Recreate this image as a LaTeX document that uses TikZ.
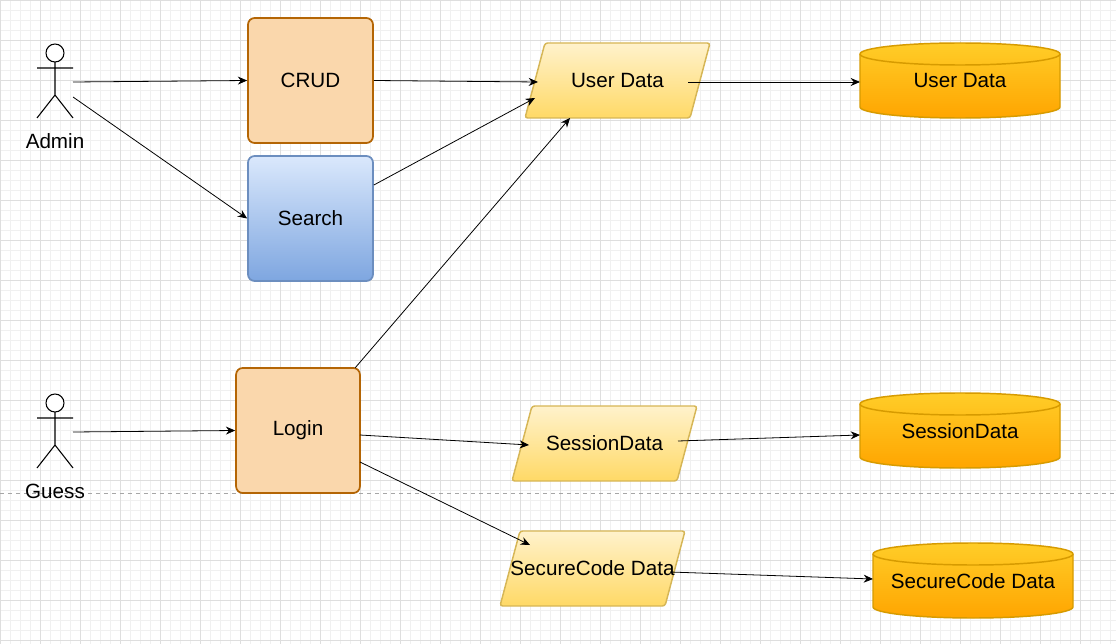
\documentclass[tikz,border=0pt]{standalone}
\usepackage{fontspec}
\setmainfont{Liberation Sans}
\usetikzlibrary{shapes.geometric,arrows.meta}
\definecolor{gl}{HTML}{F0F0F0}
\definecolor{gd}{HTML}{DEDEDE}
\definecolor{orf}{HTML}{FAD7AC}
\definecolor{ors}{HTML}{B46504}
\definecolor{blt}{HTML}{DAE8FC}
\definecolor{blb}{HTML}{7EA6E0}
\definecolor{bls}{HTML}{6C8EBF}
\definecolor{ylt}{HTML}{FFF2CC}
\definecolor{ylb}{HTML}{FFD966}
\definecolor{yls}{HTML}{D6B656}
\definecolor{cyt}{HTML}{FFCD28}
\definecolor{cyb}{HTML}{FFA500}
\definecolor{cys}{HTML}{D79B00}
\begin{document}
\begin{tikzpicture}[x=0.0264cm,y=-0.0264cm,
  txt/.style={font=\fontsize{15.5}{18}\selectfont},
  box/.style={txt,draw=ors,fill=orf,line width=1.3pt,rounded corners=5pt,inner sep=0},
  arr/.style={-{Stealth[length=7pt,width=6pt]},line width=0.6pt},
  act/.style={line width=0.8pt}]
\useasboundingbox (0,0) rectangle (1116,644);
\fill[white] (0,0) rectangle (1116,644);
\foreach \i in {0,10,...,1116} \draw[gl,line width=0.4pt] (\i,0)--(\i,644);
\foreach \i in {0,10,...,644} \draw[gl,line width=0.4pt] (0,\i)--(1116,\i);
\foreach \i in {0,40,...,1116} \draw[gd,line width=0.4pt] (\i,0)--(\i,644);
\foreach \i in {0,40,...,644} \draw[gd,line width=0.4pt] (0,\i)--(1116,\i);
\draw[gray!70,dashed,line width=0.6pt] (0,493)--(1116,493);
% actors
\foreach \y in {0,350}{
 \draw[act,fill=white] (55,53+\y) circle (9);
 \draw[act] (55,62+\y)--(55,95+\y) (37,68+\y)--(73,68+\y) (37,118+\y)--(55,95+\y)--(73,118+\y);
}
\coordinate (a1) at (73,82); \coordinate (a2) at (73,97); \coordinate (g1) at (73,432);
\node[txt] (adminl) at (55,141) {Admin};
\node[txt] (guessl) at (55,491) {Guess};
% boxes
\node[box,minimum width=3.3cm,minimum height=3.3cm] (crud) at (310.5,80.5) {CRUD};
\node[box,draw=bls,top color=blt,bottom color=blb,minimum width=3.3cm,minimum height=3.3cm] (search) at (310.5,218.5) {Search};
\node[box,minimum width=3.27cm,minimum height=3.3cm] (login) at (298,430.5) {Login};
% parallelograms
\foreach \x/\y/\n/\t in {525/118/ud/User Data,512/481/sd/SessionData,500/606/sc/SecureCode Data}{
 \draw[yls,line width=1.1pt,top color=ylt,bottom color=ylb,rounded corners=2pt] (\x,\y) -- (\x+20,\y-75) -- (\x+185,\y-75) -- (\x+165,\y) -- cycle;
 \node[txt] (\n) at (\x+92.5,\y-37.5) {\t};
}
% cylinders
\foreach \cx/\cy/\n/\t in {960/43/c1/User Data,960/393/c2/SessionData,973/543/c3/SecureCode Data}{
 \draw[cys,line width=1.1pt,top color=cyt,bottom color=cyb] (\cx-100,\cy+11) -- (\cx-100,\cy+64) arc[start angle=180,end angle=0,x radius=100,y radius=11] -- (\cx+100,\cy+11) arc[start angle=0,end angle=-180,x radius=100,y radius=11] -- cycle;
 \draw[cys,line width=1.1pt] (\cx-100,\cy+11) arc[start angle=180,end angle=0,x radius=100,y radius=11];
 \node[txt] (\n) at (\cx,\cy+38) {\t};
}
% arrows
\draw[arr] (a1) -- (crud.west);
\draw[arr] (a2) -- (search.west);
\draw[arr] (crud.east) -- (538,82);
\draw[arr] (search.east |- 0,185) -- (535,98);
\draw[arr] (355,368) -- (570,118);
\draw[arr] (g1) -- (login.west);
\draw[arr] (360,435) -- (529,445);
\draw[arr] (360,462) -- (530,545);
\draw[arr] (688,82) -- (860,82);
\draw[arr] (678,441) -- (860,435);
\draw[arr] (670,572) -- (873,579);
\end{tikzpicture}
\end{document}
